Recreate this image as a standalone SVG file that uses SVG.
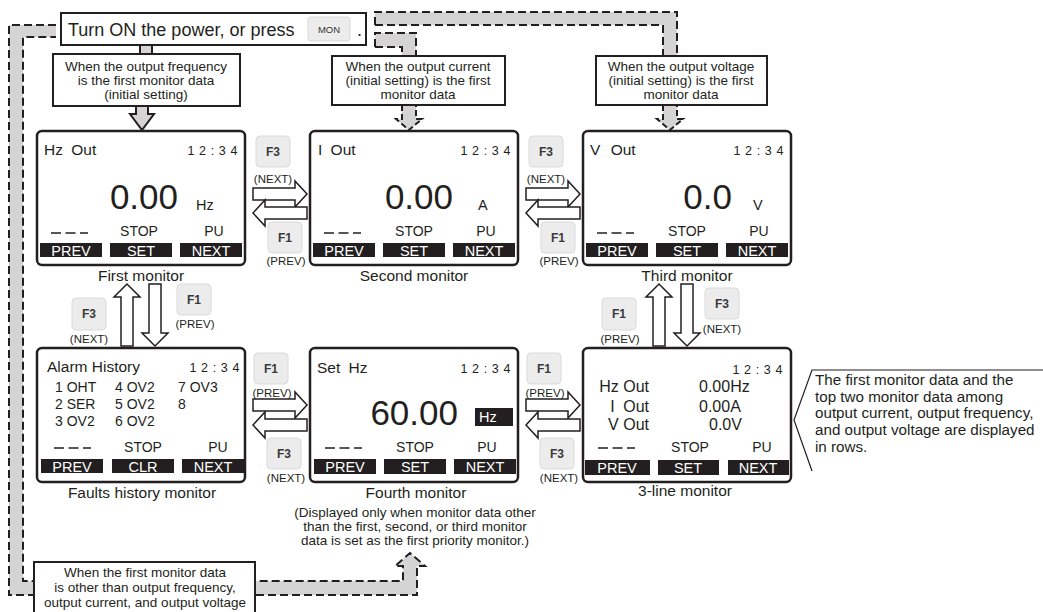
<svg xmlns="http://www.w3.org/2000/svg" width="1043" height="612" viewBox="0 0 1043 612">
<style>
text{font-family:"Liberation Sans",Arial,sans-serif;fill:#231f20}
.mon{fill:#fff;stroke:#231f20;stroke-width:2.5}
.bar{fill:#231f20}
.bt{fill:#fff;font-size:14.5px;text-anchor:middle}
.ttl{font-size:15.5px}
.tm{font-size:12.5px;letter-spacing:0.6px;text-anchor:end}
.big{font-size:35px;text-anchor:end}
.unit{font-size:14.5px}
.st{font-size:14px;text-anchor:middle}
.lbl{font-size:15.5px;text-anchor:middle}
.dl{stroke:#231f20;stroke-width:1.6;stroke-dasharray:10 4.5}
.fk{fill:#ececec;stroke:#dadada;stroke-width:1}
.fkt{font-size:12px;font-weight:bold;fill:#3a3a3a;text-anchor:middle}
.fkl{font-size:11.5px;text-anchor:middle}
.hol{fill:#fff;stroke:#231f20;stroke-width:1.5;stroke-linejoin:miter}
.band{fill:#d4d4d4;stroke:none}
.dash{fill:none;stroke:#231f20;stroke-width:2;stroke-dasharray:8 4}
.dashf{fill:#d4d4d4;stroke:#231f20;stroke-width:2;stroke-dasharray:6 3}
.box{fill:#fff;stroke:#231f20;stroke-width:2}
.ct{font-size:13.5px;text-anchor:middle}
.row{font-size:14px}
.r3{font-size:16px}
.co{font-size:15.2px}
</style>

<g id="connectors">
  <path class="band" d="M56,25 H9 V595 H417 V566 H425 L410,553 L395,566 H403 V581 H23 V37 H56 Z"/>
  <path class="dash" d="M56,25 H9 V595 H417 V566 H425 L410,553 L395,566 H403 V581 H23 V37 H56"/>
  <path class="band" d="M375,12 H677 V56 H663 V25 H375 Z"/>
  <path class="dash" d="M375,25 V12 H677 V56 M375,25 H663 V56"/>
  <path class="band" d="M375,33 H416 V56 H402 V47 H375 Z"/>
  <path class="dash" d="M375,47 V33 H416 V56 M375,47 H402 V56"/>
  <path class="dashf" d="M402,105 V119 H396 L409,130 L422,119 H416 V105"/>
  <path class="dashf" d="M663,105 V119 H657 L670,130 L683,119 H677 V105"/>
  <rect x="140" y="45" width="12" height="9" fill="#d4d4d4"/>
  <path d="M140,45 V54 M152,45 V54" stroke="#231f20" stroke-width="2"/>
  <path d="M136,106 V114 H130 L142,130 L154,114 H148 V106" fill="#d4d4d4" stroke="#231f20" stroke-width="2"/>
  <path class="hol" d="M253,188 H295 V181 L307,194 L295,207 V200 H253 Z"/>
  <path class="hol" d="M307,207 H265 V200 L253,213 L265,226 V219 H307 Z"/>
  <path class="hol" d="M526,188 H568 V181 L580,194 L568,207 V200 H526 Z"/>
  <path class="hol" d="M580,207 H538 V200 L526,213 L538,226 V219 H580 Z"/>
  <path class="hol" d="M253,399 H295 V392 L307,405 L295,418 V411 H253 Z"/>
  <path class="hol" d="M307,419 H265 V412 L253,425 L265,438 V431 H307 Z"/>
  <path class="hol" d="M526,399 H568 V392 L580,405 L568,418 V411 H526 Z"/>
  <path class="hol" d="M580,419 H538 V412 L526,425 L538,438 V431 H580 Z"/>
  <path class="hol" d="M121,346 V297 H114 L127,284 L140,297 H133 V346 Z"/>
  <path class="hol" d="M149,284 H161 V333 H168 L155,346 L142,333 H149 Z"/>
  <path class="hol" d="M653,346 V297 H646 L659,284 L672,297 H665 V346 Z"/>
  <path class="hol" d="M681,284 H693 V333 H700 L687,346 L674,333 H681 Z"/>
</g>

<g id="keys">
  <rect class="fk" x="256" y="136" width="34" height="31" rx="4"/><text class="fkt" x="273" y="156">F3</text><text class="fkl" x="273" y="183">(NEXT)</text>
  <rect class="fk" x="268" y="222" width="34" height="31" rx="4"/><text class="fkt" x="285" y="242">F1</text><text class="fkl" x="286" y="265">(PREV)</text>
  <rect class="fk" x="529" y="136" width="34" height="31" rx="4"/><text class="fkt" x="546" y="156">F3</text><text class="fkl" x="546" y="183">(NEXT)</text>
  <rect class="fk" x="541" y="222" width="34" height="31" rx="4"/><text class="fkt" x="558" y="242">F1</text><text class="fkl" x="559" y="265">(PREV)</text>

  <rect class="fk" x="254" y="353" width="34" height="31" rx="4"/><text class="fkt" x="271" y="373">F1</text><text class="fkl" x="272" y="397">(PREV)</text>
  <rect class="fk" x="267" y="438" width="34" height="31" rx="4"/><text class="fkt" x="284" y="458">F3</text><text class="fkl" x="286" y="482">(NEXT)</text>
  <rect class="fk" x="527" y="353" width="34" height="31" rx="4"/><text class="fkt" x="544" y="373">F1</text><text class="fkl" x="545" y="397">(PREV)</text>
  <rect class="fk" x="540" y="438" width="34" height="31" rx="4"/><text class="fkt" x="557" y="458">F3</text><text class="fkl" x="559" y="482">(NEXT)</text>

  <rect class="fk" x="72" y="298" width="34" height="32" rx="4"/><text class="fkt" x="89" y="318">F3</text><text class="fkl" x="89" y="343">(NEXT)</text>
  <rect class="fk" x="177" y="284" width="34" height="31" rx="4"/><text class="fkt" x="194" y="304">F1</text><text class="fkl" x="195" y="328">(PREV)</text>
  <rect class="fk" x="602" y="298" width="34" height="32" rx="4"/><text class="fkt" x="619" y="318">F1</text><text class="fkl" x="620" y="343">(PREV)</text>
  <rect class="fk" x="705" y="288" width="34" height="31" rx="4"/><text class="fkt" x="722" y="308">F3</text><text class="fkl" x="722" y="333">(NEXT)</text>
</g>

<g id="n-top">
  <rect class="box" x="61" y="13" width="305" height="32"/>
  <text x="68" y="36" style="font-size:18px">Turn ON the power, or press</text>
  <rect x="308" y="17" width="42" height="24" rx="3" fill="#ececec" stroke="#d8d8d8"/>
  <text x="329" y="33" style="font-size:9.5px;text-anchor:middle;fill:#333">MON</text>
  <text x="357" y="36" style="font-size:18px">.</text>
</g>

<g id="n-c1">
  <rect class="box" x="53" y="54" width="187" height="52"/>
  <text class="ct" x="146" y="71">When the output frequency</text>
  <text class="ct" x="146" y="85">is the first monitor data</text>
  <text class="ct" x="146" y="99">(initial setting)</text>
</g>
<g id="n-c2">
  <rect class="box" x="332" y="56" width="173" height="49"/>
  <text class="ct" x="418" y="71">When the output current</text>
  <text class="ct" x="418" y="85">(initial setting) is the first</text>
  <text class="ct" x="418" y="99">monitor data</text>
</g>
<g id="n-c3">
  <rect class="box" x="596" y="56" width="171" height="49"/>
  <text class="ct" x="681" y="71">When the output voltage</text>
  <text class="ct" x="681" y="85">(initial setting) is the first</text>
  <text class="ct" x="681" y="99">monitor data</text>
</g>
<g id="n-c4">
  <rect class="box" x="34" y="562" width="221" height="55"/>
  <text class="ct" x="145" y="577">When the first monitor data</text>
  <text class="ct" x="145" y="592">is other than output frequency,</text>
  <text class="ct" x="145" y="607">output current, and output voltage</text>
</g>
<g id="n-c5">
  <path d="M1043,370 H812 L794,420 L812,471" fill="none" stroke="#231f20" stroke-width="1.2"/>
  <text class="co" x="815" y="385">The first monitor data and the</text>
  <text class="co" x="815" y="402">top two monitor data among</text>
  <text class="co" x="815" y="418">output current, output frequency,</text>
  <text class="co" x="815" y="435">and output voltage are displayed</text>
  <text class="co" x="815" y="452">in rows.</text>
</g>

<g id="m1" transform="translate(37,131)">
  <rect class="mon" width="208" height="134" rx="5"/>
  <text class="ttl" x="7" y="24">Hz<tspan dx="4"> Out</tspan></text>
  <text class="tm" x="201" y="24">1 2 : 3 4</text>
  <text class="big" x="141" y="78">0.00</text>
  <text class="unit" x="159" y="79">Hz</text>
  <line class="dl" x1="14" y1="102" x2="51" y2="102"/>
  <text class="st" x="102" y="105">STOP</text><text class="st" x="177" y="105">PU</text>
  <rect class="bar" x="3" y="112" width="62" height="14"/><rect class="bar" x="73" y="112" width="62" height="14"/><rect class="bar" x="143" y="112" width="62" height="14"/>
  <text class="bt" x="34" y="124.5">PREV</text><text class="bt" x="104" y="124.5">SET</text><text class="bt" x="174" y="124.5">NEXT</text>
  <text class="lbl" x="104" y="150">First monitor</text>
</g>

<g id="m2" transform="translate(310,131)">
  <rect class="mon" width="208" height="134" rx="5"/>
  <text class="ttl" x="8" y="24">I<tspan dx="4"> Out</tspan></text>
  <text class="tm" x="201" y="24">1 2 : 3 4</text>
  <text class="big" x="143" y="78">0.00</text>
  <text class="unit" x="168" y="79">A</text>
  <line class="dl" x1="14" y1="102" x2="51" y2="102"/>
  <text class="st" x="104" y="105">STOP</text><text class="st" x="176" y="105">PU</text>
  <rect class="bar" x="3" y="112" width="62" height="14"/><rect class="bar" x="73" y="112" width="62" height="14"/><rect class="bar" x="143" y="112" width="62" height="14"/>
  <text class="bt" x="34" y="124.5">PREV</text><text class="bt" x="104" y="124.5">SET</text><text class="bt" x="174" y="124.5">NEXT</text>
  <text class="lbl" x="104" y="150">Second monitor</text>
</g>

<g id="m3" transform="translate(583,131)">
  <rect class="mon" width="208" height="134" rx="5"/>
  <text class="ttl" x="7" y="24">V<tspan dx="6"> Out</tspan></text>
  <text class="tm" x="201" y="24">1 2 : 3 4</text>
  <text class="big" x="149" y="78">0.0</text>
  <text class="unit" x="170" y="79">V</text>
  <line class="dl" x1="14" y1="102" x2="51" y2="102"/>
  <text class="st" x="104" y="105">STOP</text><text class="st" x="176" y="105">PU</text>
  <rect class="bar" x="3" y="112" width="62" height="14"/><rect class="bar" x="73" y="112" width="62" height="14"/><rect class="bar" x="143" y="112" width="62" height="14"/>
  <text class="bt" x="34" y="124.5">PREV</text><text class="bt" x="104" y="124.5">SET</text><text class="bt" x="174" y="124.5">NEXT</text>
  <text class="lbl" x="104" y="150">Third monitor</text>
</g>

<g id="m4" transform="translate(37,348)">
  <rect class="mon" width="208" height="134" rx="5"/>
  <text class="ttl" x="10" y="24">Alarm History</text>
  <text class="tm" x="203" y="24">1 2 : 3 4</text>
  <text class="row" x="18" y="44">1 OHT</text><text class="row" x="78" y="44">4 OV2</text><text class="row" x="141" y="44">7 OV3</text>
  <text class="row" x="18" y="61">2 SER</text><text class="row" x="78" y="61">5 OV2</text><text class="row" x="141" y="61">8</text>
  <text class="row" x="18" y="78">3 OV2</text><text class="row" x="78" y="78">6 OV2</text>
  <line class="dl" x1="17" y1="100" x2="54" y2="100"/>
  <text class="st" x="106" y="104">STOP</text><text class="st" x="181" y="104">PU</text>
  <rect class="bar" x="4" y="111" width="62" height="14"/><rect class="bar" x="75" y="111" width="62" height="14"/><rect class="bar" x="145" y="111" width="62" height="14"/>
  <text class="bt" x="35" y="123.5">PREV</text><text class="bt" x="106" y="123.5">CLR</text><text class="bt" x="176" y="123.5">NEXT</text>
  <text class="lbl" x="105" y="150">Faults history monitor</text>
</g>

<g id="m5" transform="translate(310,348)">
  <rect class="mon" width="208" height="134" rx="5"/>
  <text class="ttl" x="7" y="25">Set<tspan dx="4"> Hz</tspan></text>
  <text class="tm" x="201" y="25">1 2 : 3 4</text>
  <text class="big" x="148" y="77">60.00</text>
  <rect class="bar" x="165" y="60" width="38" height="18"/>
  <text class="unit" x="169" y="74" style="fill:#fff">Hz</text>
  <line class="dl" x1="15" y1="100" x2="52" y2="100"/>
  <text class="st" x="105" y="104">STOP</text><text class="st" x="177" y="104">PU</text>
  <rect class="bar" x="4" y="111" width="62" height="15"/><rect class="bar" x="74" y="111" width="62" height="15"/><rect class="bar" x="144" y="111" width="62" height="15"/>
  <text class="bt" x="35" y="124">PREV</text><text class="bt" x="105" y="124">SET</text><text class="bt" x="175" y="124">NEXT</text>
  <text class="lbl" x="106" y="150">Fourth monitor</text>
  <text class="ct" x="105" y="169">(Displayed only when monitor data other</text>
  <text class="ct" x="105" y="183">than the first, second, or third monitor</text>
  <text class="ct" x="105" y="197">data is set as the first priority monitor.)</text>
</g>

<g id="m6" transform="translate(583,348)">
  <rect class="mon" width="208" height="134" rx="5"/>
  <text class="tm" x="200" y="26">1 2 : 3 4</text>
  <text class="r3" x="66" y="44" text-anchor="end">Hz Out</text><text class="r3" x="116" y="44">0.00Hz</text>
  <text class="r3" x="66" y="64" text-anchor="end">I<tspan dx="4"> Out</tspan></text><text class="r3" x="116" y="64">0.00A</text>
  <text class="r3" x="66" y="82" text-anchor="end">V Out</text><text class="r3" x="126" y="82">0.0V</text>
  <line class="dl" x1="15" y1="100" x2="52" y2="100"/>
  <text class="st" x="107" y="104">STOP</text><text class="st" x="179" y="104">PU</text>
  <rect class="bar" x="2" y="112" width="65" height="15"/><rect class="bar" x="75" y="112" width="61" height="15"/><rect class="bar" x="145" y="112" width="61" height="15"/>
  <text class="bt" x="34" y="125">PREV</text><text class="bt" x="105" y="125">SET</text><text class="bt" x="175" y="125">NEXT</text>
  <text class="lbl" x="102" y="148">3-line monitor</text>
</g>
</svg>
